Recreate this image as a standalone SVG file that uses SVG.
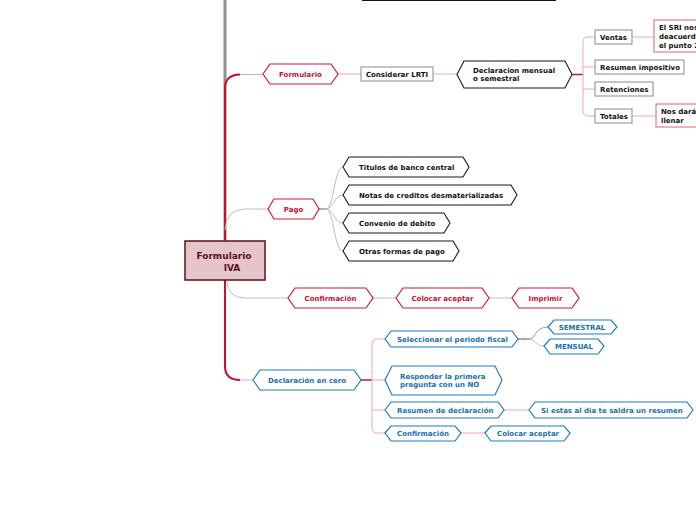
<svg xmlns="http://www.w3.org/2000/svg" width="696" height="520" viewBox="0 0 696 520">
<style>
text{font-family:"DejaVu Sans","Liberation Sans",sans-serif;font-weight:bold;font-size:7px}
.red polygon{fill:#fff;stroke:#d3173f;stroke-width:1.2}
.red text{fill:#c8102e;text-anchor:middle}
.blk polygon{fill:#fff;stroke:#1a1a1a;stroke-width:1.1}
.blk text{fill:#111}
.box rect{fill:#fff;stroke:#8a8a8a;stroke-width:1}
.box text{fill:#111}
.pbox rect{fill:#fff;stroke:#e0607a;stroke-width:1}
.pbox text{fill:#111}
.blue polygon{fill:#fff;stroke:#1f7dbf;stroke-width:1.2}
.blue text{fill:#1a6fae}
.pk{fill:none;stroke:#f0a6b4;stroke-width:1}
.gr{fill:none;stroke:#bdbdbd;stroke-width:1}
.rd{fill:none;stroke:#c8102e;stroke-width:2}
.ctr{fill:#5b0f1e;font-size:9px;text-anchor:middle}
</style>
<g id="connectors">
<line x1="225" y1="0" x2="225" y2="241" stroke="#8e8e96" stroke-width="3"/>
<line x1="362" y1="0" x2="556" y2="0" stroke="#111" stroke-width="2"/>
<path class="rd" d="M225,240 V88 Q225,75 240,74.5"/>
<path class="pk" d="M240,74.5 H263"/>
<path class="gr" d="M225,230 Q226,209 245,209 H268" stroke-width="1.5"/>
<path class="gr" d="M227,281 Q228,298 245,298 H288" stroke-width="1.2"/>
<path class="rd" d="M225,280 V366 Q225,380 240,380"/>
<path class="pk" d="M240,380 H253"/>
<path class="pk" d="M338,74 H361 M433,74 H457"/>
<path d="M572,74.5 H583" stroke="#c8102e" stroke-width="1.5" fill="none"/>
<path class="pk" d="M595,37 H588 Q583,37 583,42 V111 Q583,116 588,116 H595 M583,67 H595 M583,89 H595"/>
<path class="pk" d="M632,37 H654 M632,116 H656"/>
<path d="M319,209 H326" stroke="#9a9a9a" stroke-width="1.5" fill="none"/>
<path class="gr" d="M326,209 C334,209 334,167 343,167 M326,209 C334,209 334,195 343,195 M326,209 C334,209 334,223 343,223 M326,209 C334,209 334,251 343,251"/>
<path class="gr" d="M373,298 H396 M489,298 H512"/>
<path d="M361,380 H372" stroke="#c8102e" stroke-width="1.5" fill="none"/>
<path class="pk" d="M385,339 H377 Q372,339 372,344 V428 Q372,433 377,433 H385 M372,380 H385 M372,410 H385"/>
<path d="M518,339 H530" stroke="#c07a86" stroke-width="1.5" fill="none"/>
<path d="M530,339 C535,339 535,327 548,327" stroke="#9a9a9a" stroke-width="1" fill="none"/>
<path class="pk" d="M530,339 C535,339 535,346 544,346"/>
<path class="pk" d="M504,410 H529 M461,433 H485"/>
</g>
<g id="central">
<rect x="185" y="241" width="80" height="39" fill="#e6c5ca" stroke="#5b0f1e" stroke-width="1.5"/>
<text class="ctr" x="224" y="259">Formulario</text>
<text class="ctr" x="232" y="271">IVA</text>
</g>
<g id="n-formulario" class="red"><polygon points="263,74 270,64 331,64 338,74 331,84 270,84"/><text x="300.5" y="77">Formulario</text></g>
<g id="n-lrti" class="box"><rect x="361" y="67" width="72" height="14"/><text x="397" y="77" text-anchor="middle">Considerar LRTI</text></g>
<g id="n-declmensual" class="blk"><polygon points="457,74.5 464,61 565,61 572,74.5 565,88 464,88"/><text x="473" y="73">Declaracion mensual</text><text x="473" y="81">o semestral</text></g>
<g id="n-ventas" class="box"><rect x="595" y="30" width="37" height="14"/><text x="600" y="40">Ventas</text></g>
<g id="n-resumen" class="box"><rect x="595" y="60" width="89" height="14"/><text x="600" y="70">Resumen impositivo</text></g>
<g id="n-retenciones" class="box"><rect x="595" y="82" width="58" height="14"/><text x="600" y="92">Retenciones</text></g>
<g id="n-totales" class="box"><rect x="595" y="109" width="37" height="14"/><text x="600" y="119">Totales</text></g>
<g id="n-elsri" class="pbox"><rect x="654" y="20" width="60" height="32"/><text x="659" y="30">El SRI nos</text><text x="659" y="39">deacuerd</text><text x="659" y="48">el punto 2</text></g>
<g id="n-nosdara" class="pbox"><rect x="656" y="104" width="60" height="23"/><text x="661" y="114">Nos dará</text><text x="661" y="123">llenar</text></g>
<g id="n-pago" class="red"><polygon points="268,209 274,199 313,199 319,209 313,219 274,219"/><text x="293.5" y="212">Pago</text></g>
<g id="n-titulos" class="blk"><polygon points="343,167 349,157 463,157 469,167 463,177 349,177"/><text x="359" y="170">Titulos de banco central</text></g>
<g id="n-notas" class="blk"><polygon points="343,195 349,185 511,185 517,195 511,205 349,205"/><text x="359" y="198">Notas de creditos desmaterializadas</text></g>
<g id="n-convenio" class="blk"><polygon points="343,223 349,213 444,213 450,223 444,233 349,233"/><text x="359" y="226">Convenio de debito</text></g>
<g id="n-otras" class="blk"><polygon points="343,251 349,241 453,241 459,251 453,261 349,261"/><text x="359" y="254">Otras formas de pago</text></g>
<g id="n-confirmacion" class="red"><polygon points="288,298 295,288 366,288 373,298 366,308 295,308"/><text x="330.5" y="301">Confirmación</text></g>
<g id="n-colocar" class="red"><polygon points="396,298 403,288 482,288 489,298 482,308 403,308"/><text x="442.5" y="301">Colocar aceptar</text></g>
<g id="n-imprimir" class="red"><polygon points="512,298 519,288 572,288 579,298 572,308 519,308"/><text x="545.5" y="301">Imprimir</text></g>
<g id="n-declcero" class="blue"><polygon points="253,380 260,370 354,370 361,380 354,390 260,390"/><text x="307" y="383" text-anchor="middle">Declaración en cero</text></g>
<g id="n-seleccionar" class="blue"><polygon points="385,339 391,331 512,331 518,339 512,347 391,347"/><text x="397" y="342">Seleccionar el periodo fiscal</text></g>
<g id="n-semestral" class="blue"><polygon points="548,327 554,320 611,320 617,327 611,334 554,334"/><text x="582" y="330" text-anchor="middle">SEMESTRAL</text></g>
<g id="n-mensual" class="blue"><polygon points="544,346 550,339 598,339 604,346 598,354 550,354"/><text x="574" y="349" text-anchor="middle">MENSUAL</text></g>
<g id="n-responder" class="blue"><polygon points="385,380 392,366 495,366 502,380 495,395 392,395"/><text x="400" y="379">Responder la primera</text><text x="400" y="387">pregunta con un NO</text></g>
<g id="n-resumendecl" class="blue"><polygon points="385,410 391,402 498,402 504,410 498,418 391,418"/><text x="397" y="413">Resumen de declaración</text></g>
<g id="n-siestas" class="blue"><polygon points="529,410 535,402 687,402 693,410 687,418 535,418"/><text x="541" y="413">Si estas al dia te saldra un resumen</text></g>
<g id="n-confirmacion2" class="blue"><polygon points="385,433 391,426 455,426 461,433 455,441 391,441"/><text x="397" y="436">Confirmación</text></g>
<g id="n-colocar2" class="blue"><polygon points="485,433 491,426 564,426 570,433 564,441 491,441"/><text x="497" y="436">Colocar aceptar</text></g>
</svg>
